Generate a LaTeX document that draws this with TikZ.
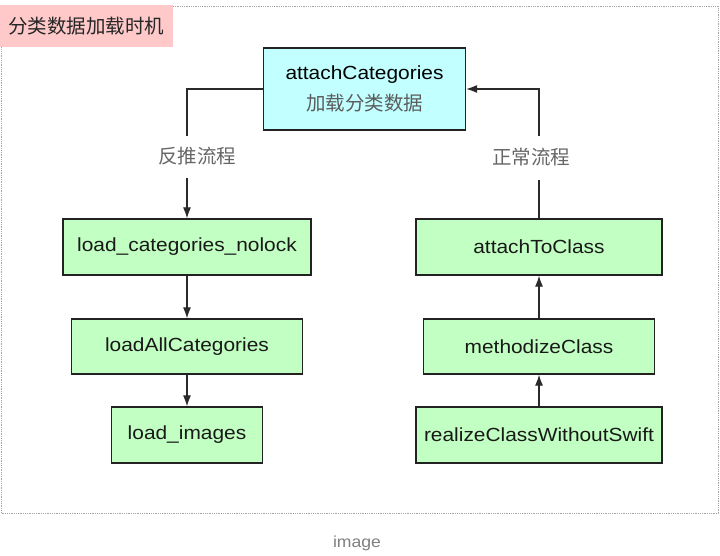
\documentclass[tikz,border=0pt]{standalone}
\usepackage{fontspec}
\setmainfont{Liberation Sans}[FakeStretch=1.1]
\newfontfamily\cjk{Noto Sans CJK SC}
\usetikzlibrary{arrows.meta}
\definecolor{boxline}{HTML}{222222}
\definecolor{greenfill}{HTML}{C2FFC2}
\definecolor{cyanfill}{HTML}{C2FFFF}
\definecolor{pinkfill}{HTML}{FFC9C9}
\definecolor{conn}{HTML}{2A2A2A}
\definecolor{labgray}{HTML}{666666}
\tikzset{
  fn/.style={draw=boxline, line width=1.3pt, fill=greenfill, inner sep=0pt,
    font=\fontsize{19}{23}\selectfont, text=black!90},
  conline/.style={draw=conn, line width=1.2pt},
  conarrow/.style={conline, -{Latex[length=11pt,width=8pt]}},
  flowlabel/.style={font=\cjk\fontsize{19.5}{23}\selectfont, text=labgray, inner sep=0pt}
}
\begin{document}
\begin{tikzpicture}[x=1pt, y=-1pt]
\useasboundingbox (0,0) rectangle (720,556);
\fill[white] (0,0) rectangle (720,556);
% dotted frame
\draw[gray!70, densely dotted, line width=0.8pt] (1,6) rectangle (718,513);
% title label
\node[fill=pinkfill, minimum width=173pt, minimum height=42pt, inner sep=0pt,
  font=\cjk\fontsize{19.5}{23}\selectfont, text=black!85] (title) at (86.5,26) {分类数据加载时机};
% top node
\node[draw=boxline, line width=1.3pt, fill=cyanfill, minimum width=202pt, minimum height=82pt,
  inner sep=0pt, align=center] (ac) at (364.5,89)
  {{\fontsize{19}{23}\selectfont attachCategories}\\[10pt]{\cjk\fontsize{19.5}{23}\selectfont\color{labgray!90!black}加载分类数据}};
% left column
\node[fn, minimum width=248pt, minimum height=56pt] (lcn) at (187,247) {load\_categories\_nolock};
\node[fn, minimum width=231pt, minimum height=55pt] (lac) at (187,346.5) {loadAllCategories};
\node[fn, minimum width=151pt, minimum height=56pt] (limg) at (187,435) {load\_images};
% right column
\node[fn, minimum width=246pt, minimum height=56pt] (atc) at (539,247) {attachToClass};
\node[fn, minimum width=231pt, minimum height=55pt] (mc) at (539,346.5) {methodizeClass};
\node[fn, minimum width=246pt, minimum height=56pt] (rcw) at (539,435) {realizeClassWithoutSwift};
% flow labels
\node[flowlabel] (lbl1) at (197,156) {反推流程};
\node[flowlabel] (lbl2) at (531,157) {正常流程};
\coordinate (l1) at (187,136);
\coordinate (l2) at (187,178);
\coordinate (r1) at (539,136);
\coordinate (r2) at (539,180);
% connectors
\draw[conline] (ac.west) -| (l1);
\draw[conarrow] (l2) -- (lcn.north);
\draw[conarrow] (lcn.south) -- (lac.north);
\draw[conarrow] (lac.south) -- (limg.north);
\draw[conline] (atc.north) -- (r2);
\draw[conarrow] (r1) |- (ac.east);
\draw[conarrow] (mc.north) -- (atc.south);
\draw[conarrow] (rcw.north) -- (mc.south);
% caption
\node[font=\fontsize{16}{18}\selectfont, text=gray, inner sep=0pt] (cap) at (357,543) {image};
\end{tikzpicture}
\end{document}
